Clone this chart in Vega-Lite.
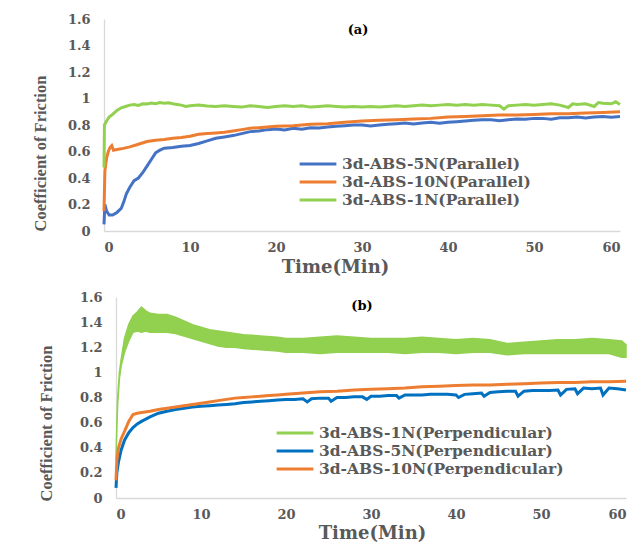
{
  "$schema": "https://vega.github.io/schema/vega-lite/v6.json",
  "padding": {"left": 31, "top": 13, "right": 5, "bottom": 0},
  "spacing": 15,
  "resolve": {"scale": {"color": "independent"}, "legend": {"color": "independent"}},
  "config": {
    "view": {"stroke": null},
    "axis": {
      "labelFont": "DejaVu Serif", "labelFontWeight": "bold", "labelFontSize": 13, "labelColor": "#595959",
      "titleFont": "DejaVu Serif", "titleFontWeight": "bold", "titleFontSize": 18, "titleColor": "#595959",
      "domainColor": "#d9d9d9", "domainWidth": 1.3, "ticks": false, "grid": false
    },
    "axisY": {"titleFont": "Liberation Serif", "titleFontSize": 16.5, "labelPadding": 14},
    "axisX": {"labelPadding": 10},
    "legend": {
      "orient": "none", "symbolType": "M-3,0H3", "symbolSize": 150, "symbolStrokeWidth": 3,
      "labelFont": "DejaVu Serif", "labelFontWeight": "bold", "labelFontSize": 15.5, "labelColor": "#595959",
      "labelLimit": 0, "rowPadding": 1, "padding": 0, "labelOffset": 16, "title": null
    },
    "title": {"font": "DejaVu Serif", "fontSize": 13, "fontWeight": "bold", "color": "#000000", "frame": "group", "anchor": "middle", "baseline": "middle"}
  },
  "datasets": {
    "a": [
      {"t":0,"v":0.05,"s":"3d-ABS-5N(Parallel)"},{"t":0.1,"v":0.2,"s":"3d-ABS-5N(Parallel)"},{"t":0.3,"v":0.15,"s":"3d-ABS-5N(Parallel)"},{"t":0.6,"v":0.12,"s":"3d-ABS-5N(Parallel)"},{"t":1,"v":0.12,"s":"3d-ABS-5N(Parallel)"},{"t":1.5,"v":0.14,"s":"3d-ABS-5N(Parallel)"},{"t":2,"v":0.17,"s":"3d-ABS-5N(Parallel)"},{"t":2.3,"v":0.22,"s":"3d-ABS-5N(Parallel)"},{"t":2.6,"v":0.28,"s":"3d-ABS-5N(Parallel)"},{"t":3,"v":0.33,"s":"3d-ABS-5N(Parallel)"},{"t":3.5,"v":0.38,"s":"3d-ABS-5N(Parallel)"},{"t":4,"v":0.4,"s":"3d-ABS-5N(Parallel)"},{"t":4.5,"v":0.44,"s":"3d-ABS-5N(Parallel)"},{"t":5,"v":0.49,"s":"3d-ABS-5N(Parallel)"},{"t":5.5,"v":0.54,"s":"3d-ABS-5N(Parallel)"},{"t":6,"v":0.59,"s":"3d-ABS-5N(Parallel)"},{"t":6.5,"v":0.61,"s":"3d-ABS-5N(Parallel)"},{"t":7,"v":0.625,"s":"3d-ABS-5N(Parallel)"},{"t":8,"v":0.63,"s":"3d-ABS-5N(Parallel)"},{"t":9,"v":0.64,"s":"3d-ABS-5N(Parallel)"},{"t":10,"v":0.645,"s":"3d-ABS-5N(Parallel)"},{"t":11,"v":0.66,"s":"3d-ABS-5N(Parallel)"},{"t":12,"v":0.68,"s":"3d-ABS-5N(Parallel)"},{"t":13,"v":0.7,"s":"3d-ABS-5N(Parallel)"},{"t":14,"v":0.71,"s":"3d-ABS-5N(Parallel)"},{"t":15,"v":0.72,"s":"3d-ABS-5N(Parallel)"},{"t":16,"v":0.735,"s":"3d-ABS-5N(Parallel)"},{"t":17,"v":0.75,"s":"3d-ABS-5N(Parallel)"},{"t":18,"v":0.755,"s":"3d-ABS-5N(Parallel)"},{"t":19,"v":0.765,"s":"3d-ABS-5N(Parallel)"},{"t":20,"v":0.77,"s":"3d-ABS-5N(Parallel)"},{"t":21,"v":0.762,"s":"3d-ABS-5N(Parallel)"},{"t":22,"v":0.775,"s":"3d-ABS-5N(Parallel)"},{"t":23,"v":0.768,"s":"3d-ABS-5N(Parallel)"},{"t":24,"v":0.78,"s":"3d-ABS-5N(Parallel)"},{"t":25,"v":0.778,"s":"3d-ABS-5N(Parallel)"},{"t":26,"v":0.785,"s":"3d-ABS-5N(Parallel)"},{"t":27,"v":0.79,"s":"3d-ABS-5N(Parallel)"},{"t":28,"v":0.795,"s":"3d-ABS-5N(Parallel)"},{"t":29,"v":0.8,"s":"3d-ABS-5N(Parallel)"},{"t":30,"v":0.8,"s":"3d-ABS-5N(Parallel)"},{"t":31,"v":0.793,"s":"3d-ABS-5N(Parallel)"},{"t":32,"v":0.8,"s":"3d-ABS-5N(Parallel)"},{"t":33,"v":0.805,"s":"3d-ABS-5N(Parallel)"},{"t":34,"v":0.81,"s":"3d-ABS-5N(Parallel)"},{"t":35,"v":0.815,"s":"3d-ABS-5N(Parallel)"},{"t":36,"v":0.808,"s":"3d-ABS-5N(Parallel)"},{"t":37,"v":0.815,"s":"3d-ABS-5N(Parallel)"},{"t":38,"v":0.82,"s":"3d-ABS-5N(Parallel)"},{"t":39,"v":0.813,"s":"3d-ABS-5N(Parallel)"},{"t":40,"v":0.82,"s":"3d-ABS-5N(Parallel)"},{"t":41,"v":0.825,"s":"3d-ABS-5N(Parallel)"},{"t":42,"v":0.83,"s":"3d-ABS-5N(Parallel)"},{"t":43,"v":0.835,"s":"3d-ABS-5N(Parallel)"},{"t":44,"v":0.84,"s":"3d-ABS-5N(Parallel)"},{"t":45,"v":0.84,"s":"3d-ABS-5N(Parallel)"},{"t":46,"v":0.833,"s":"3d-ABS-5N(Parallel)"},{"t":47,"v":0.84,"s":"3d-ABS-5N(Parallel)"},{"t":48,"v":0.845,"s":"3d-ABS-5N(Parallel)"},{"t":49,"v":0.843,"s":"3d-ABS-5N(Parallel)"},{"t":50,"v":0.85,"s":"3d-ABS-5N(Parallel)"},{"t":51,"v":0.85,"s":"3d-ABS-5N(Parallel)"},{"t":52,"v":0.843,"s":"3d-ABS-5N(Parallel)"},{"t":53,"v":0.855,"s":"3d-ABS-5N(Parallel)"},{"t":54,"v":0.855,"s":"3d-ABS-5N(Parallel)"},{"t":55,"v":0.86,"s":"3d-ABS-5N(Parallel)"},{"t":56,"v":0.852,"s":"3d-ABS-5N(Parallel)"},{"t":57,"v":0.86,"s":"3d-ABS-5N(Parallel)"},{"t":58,"v":0.865,"s":"3d-ABS-5N(Parallel)"},{"t":59,"v":0.858,"s":"3d-ABS-5N(Parallel)"},{"t":60,"v":0.865,"s":"3d-ABS-5N(Parallel)"},
      {"t":0,"v":0.15,"s":"3d-ABS-10N(Parallel)"},{"t":0.1,"v":0.45,"s":"3d-ABS-10N(Parallel)"},{"t":0.3,"v":0.55,"s":"3d-ABS-10N(Parallel)"},{"t":0.5,"v":0.6,"s":"3d-ABS-10N(Parallel)"},{"t":0.7,"v":0.63,"s":"3d-ABS-10N(Parallel)"},{"t":0.9,"v":0.645,"s":"3d-ABS-10N(Parallel)"},{"t":1.1,"v":0.61,"s":"3d-ABS-10N(Parallel)"},{"t":1.5,"v":0.615,"s":"3d-ABS-10N(Parallel)"},{"t":2,"v":0.62,"s":"3d-ABS-10N(Parallel)"},{"t":3,"v":0.635,"s":"3d-ABS-10N(Parallel)"},{"t":4,"v":0.655,"s":"3d-ABS-10N(Parallel)"},{"t":5,"v":0.675,"s":"3d-ABS-10N(Parallel)"},{"t":6,"v":0.685,"s":"3d-ABS-10N(Parallel)"},{"t":7,"v":0.69,"s":"3d-ABS-10N(Parallel)"},{"t":8,"v":0.7,"s":"3d-ABS-10N(Parallel)"},{"t":9,"v":0.705,"s":"3d-ABS-10N(Parallel)"},{"t":10,"v":0.715,"s":"3d-ABS-10N(Parallel)"},{"t":11,"v":0.73,"s":"3d-ABS-10N(Parallel)"},{"t":12,"v":0.735,"s":"3d-ABS-10N(Parallel)"},{"t":13,"v":0.74,"s":"3d-ABS-10N(Parallel)"},{"t":14,"v":0.745,"s":"3d-ABS-10N(Parallel)"},{"t":15,"v":0.755,"s":"3d-ABS-10N(Parallel)"},{"t":16,"v":0.765,"s":"3d-ABS-10N(Parallel)"},{"t":17,"v":0.775,"s":"3d-ABS-10N(Parallel)"},{"t":18,"v":0.78,"s":"3d-ABS-10N(Parallel)"},{"t":19,"v":0.785,"s":"3d-ABS-10N(Parallel)"},{"t":20,"v":0.79,"s":"3d-ABS-10N(Parallel)"},{"t":22,"v":0.795,"s":"3d-ABS-10N(Parallel)"},{"t":24,"v":0.805,"s":"3d-ABS-10N(Parallel)"},{"t":26,"v":0.81,"s":"3d-ABS-10N(Parallel)"},{"t":28,"v":0.82,"s":"3d-ABS-10N(Parallel)"},{"t":30,"v":0.83,"s":"3d-ABS-10N(Parallel)"},{"t":32,"v":0.835,"s":"3d-ABS-10N(Parallel)"},{"t":34,"v":0.84,"s":"3d-ABS-10N(Parallel)"},{"t":36,"v":0.845,"s":"3d-ABS-10N(Parallel)"},{"t":38,"v":0.85,"s":"3d-ABS-10N(Parallel)"},{"t":40,"v":0.86,"s":"3d-ABS-10N(Parallel)"},{"t":42,"v":0.865,"s":"3d-ABS-10N(Parallel)"},{"t":44,"v":0.87,"s":"3d-ABS-10N(Parallel)"},{"t":46,"v":0.875,"s":"3d-ABS-10N(Parallel)"},{"t":48,"v":0.875,"s":"3d-ABS-10N(Parallel)"},{"t":50,"v":0.88,"s":"3d-ABS-10N(Parallel)"},{"t":52,"v":0.885,"s":"3d-ABS-10N(Parallel)"},{"t":54,"v":0.885,"s":"3d-ABS-10N(Parallel)"},{"t":56,"v":0.89,"s":"3d-ABS-10N(Parallel)"},{"t":58,"v":0.895,"s":"3d-ABS-10N(Parallel)"},{"t":60,"v":0.9,"s":"3d-ABS-10N(Parallel)"},
      {"t":0,"v":0.48,"s":"3d-ABS-1N(Parallel)"},{"t":0.05,"v":0.8,"s":"3d-ABS-1N(Parallel)"},{"t":0.3,"v":0.83,"s":"3d-ABS-1N(Parallel)"},{"t":0.6,"v":0.86,"s":"3d-ABS-1N(Parallel)"},{"t":1,"v":0.88,"s":"3d-ABS-1N(Parallel)"},{"t":1.5,"v":0.91,"s":"3d-ABS-1N(Parallel)"},{"t":2,"v":0.93,"s":"3d-ABS-1N(Parallel)"},{"t":2.5,"v":0.94,"s":"3d-ABS-1N(Parallel)"},{"t":3,"v":0.95,"s":"3d-ABS-1N(Parallel)"},{"t":3.5,"v":0.955,"s":"3d-ABS-1N(Parallel)"},{"t":4,"v":0.948,"s":"3d-ABS-1N(Parallel)"},{"t":4.5,"v":0.96,"s":"3d-ABS-1N(Parallel)"},{"t":5,"v":0.958,"s":"3d-ABS-1N(Parallel)"},{"t":5.5,"v":0.965,"s":"3d-ABS-1N(Parallel)"},{"t":6,"v":0.96,"s":"3d-ABS-1N(Parallel)"},{"t":6.5,"v":0.97,"s":"3d-ABS-1N(Parallel)"},{"t":7,"v":0.965,"s":"3d-ABS-1N(Parallel)"},{"t":7.5,"v":0.967,"s":"3d-ABS-1N(Parallel)"},{"t":8,"v":0.96,"s":"3d-ABS-1N(Parallel)"},{"t":8.5,"v":0.955,"s":"3d-ABS-1N(Parallel)"},{"t":9,"v":0.95,"s":"3d-ABS-1N(Parallel)"},{"t":9.5,"v":0.94,"s":"3d-ABS-1N(Parallel)"},{"t":10,"v":0.945,"s":"3d-ABS-1N(Parallel)"},{"t":11,"v":0.95,"s":"3d-ABS-1N(Parallel)"},{"t":12,"v":0.944,"s":"3d-ABS-1N(Parallel)"},{"t":13,"v":0.94,"s":"3d-ABS-1N(Parallel)"},{"t":14,"v":0.945,"s":"3d-ABS-1N(Parallel)"},{"t":15,"v":0.94,"s":"3d-ABS-1N(Parallel)"},{"t":16,"v":0.935,"s":"3d-ABS-1N(Parallel)"},{"t":17,"v":0.945,"s":"3d-ABS-1N(Parallel)"},{"t":18,"v":0.94,"s":"3d-ABS-1N(Parallel)"},{"t":19,"v":0.933,"s":"3d-ABS-1N(Parallel)"},{"t":20,"v":0.94,"s":"3d-ABS-1N(Parallel)"},{"t":21,"v":0.945,"s":"3d-ABS-1N(Parallel)"},{"t":22,"v":0.94,"s":"3d-ABS-1N(Parallel)"},{"t":23,"v":0.945,"s":"3d-ABS-1N(Parallel)"},{"t":24,"v":0.935,"s":"3d-ABS-1N(Parallel)"},{"t":25,"v":0.94,"s":"3d-ABS-1N(Parallel)"},{"t":26,"v":0.945,"s":"3d-ABS-1N(Parallel)"},{"t":27,"v":0.94,"s":"3d-ABS-1N(Parallel)"},{"t":28,"v":0.935,"s":"3d-ABS-1N(Parallel)"},{"t":29,"v":0.94,"s":"3d-ABS-1N(Parallel)"},{"t":30,"v":0.935,"s":"3d-ABS-1N(Parallel)"},{"t":31,"v":0.94,"s":"3d-ABS-1N(Parallel)"},{"t":32,"v":0.935,"s":"3d-ABS-1N(Parallel)"},{"t":33,"v":0.94,"s":"3d-ABS-1N(Parallel)"},{"t":34,"v":0.945,"s":"3d-ABS-1N(Parallel)"},{"t":35,"v":0.94,"s":"3d-ABS-1N(Parallel)"},{"t":36,"v":0.945,"s":"3d-ABS-1N(Parallel)"},{"t":37,"v":0.95,"s":"3d-ABS-1N(Parallel)"},{"t":38,"v":0.945,"s":"3d-ABS-1N(Parallel)"},{"t":39,"v":0.95,"s":"3d-ABS-1N(Parallel)"},{"t":40,"v":0.955,"s":"3d-ABS-1N(Parallel)"},{"t":41,"v":0.95,"s":"3d-ABS-1N(Parallel)"},{"t":42,"v":0.955,"s":"3d-ABS-1N(Parallel)"},{"t":43,"v":0.95,"s":"3d-ABS-1N(Parallel)"},{"t":44,"v":0.955,"s":"3d-ABS-1N(Parallel)"},{"t":45,"v":0.95,"s":"3d-ABS-1N(Parallel)"},{"t":46,"v":0.945,"s":"3d-ABS-1N(Parallel)"},{"t":46.5,"v":0.92,"s":"3d-ABS-1N(Parallel)"},{"t":47,"v":0.945,"s":"3d-ABS-1N(Parallel)"},{"t":48,"v":0.95,"s":"3d-ABS-1N(Parallel)"},{"t":49,"v":0.955,"s":"3d-ABS-1N(Parallel)"},{"t":50,"v":0.95,"s":"3d-ABS-1N(Parallel)"},{"t":51,"v":0.955,"s":"3d-ABS-1N(Parallel)"},{"t":52,"v":0.96,"s":"3d-ABS-1N(Parallel)"},{"t":53,"v":0.95,"s":"3d-ABS-1N(Parallel)"},{"t":54,"v":0.932,"s":"3d-ABS-1N(Parallel)"},{"t":54.5,"v":0.96,"s":"3d-ABS-1N(Parallel)"},{"t":55,"v":0.955,"s":"3d-ABS-1N(Parallel)"},{"t":56,"v":0.96,"s":"3d-ABS-1N(Parallel)"},{"t":57,"v":0.94,"s":"3d-ABS-1N(Parallel)"},{"t":57.5,"v":0.97,"s":"3d-ABS-1N(Parallel)"},{"t":58,"v":0.965,"s":"3d-ABS-1N(Parallel)"},{"t":59,"v":0.96,"s":"3d-ABS-1N(Parallel)"},{"t":59.5,"v":0.975,"s":"3d-ABS-1N(Parallel)"},{"t":60,"v":0.955,"s":"3d-ABS-1N(Parallel)"}
    ],
    "bLines": [
      {"t":0,"v":0.08,"s":"3d-ABS-5N(Perpendicular)"},{"t":0.1,"v":0.2,"s":"3d-ABS-5N(Perpendicular)"},{"t":0.3,"v":0.29,"s":"3d-ABS-5N(Perpendicular)"},{"t":0.6,"v":0.38,"s":"3d-ABS-5N(Perpendicular)"},{"t":1,"v":0.46,"s":"3d-ABS-5N(Perpendicular)"},{"t":1.5,"v":0.52,"s":"3d-ABS-5N(Perpendicular)"},{"t":2,"v":0.56,"s":"3d-ABS-5N(Perpendicular)"},{"t":2.5,"v":0.59,"s":"3d-ABS-5N(Perpendicular)"},{"t":3,"v":0.61,"s":"3d-ABS-5N(Perpendicular)"},{"t":4,"v":0.645,"s":"3d-ABS-5N(Perpendicular)"},{"t":5,"v":0.675,"s":"3d-ABS-5N(Perpendicular)"},{"t":6,"v":0.69,"s":"3d-ABS-5N(Perpendicular)"},{"t":7,"v":0.705,"s":"3d-ABS-5N(Perpendicular)"},{"t":8,"v":0.715,"s":"3d-ABS-5N(Perpendicular)"},{"t":9,"v":0.725,"s":"3d-ABS-5N(Perpendicular)"},{"t":10,"v":0.73,"s":"3d-ABS-5N(Perpendicular)"},{"t":11,"v":0.735,"s":"3d-ABS-5N(Perpendicular)"},{"t":12,"v":0.74,"s":"3d-ABS-5N(Perpendicular)"},{"t":13,"v":0.745,"s":"3d-ABS-5N(Perpendicular)"},{"t":14,"v":0.75,"s":"3d-ABS-5N(Perpendicular)"},{"t":15,"v":0.76,"s":"3d-ABS-5N(Perpendicular)"},{"t":16,"v":0.765,"s":"3d-ABS-5N(Perpendicular)"},{"t":17,"v":0.77,"s":"3d-ABS-5N(Perpendicular)"},{"t":18,"v":0.775,"s":"3d-ABS-5N(Perpendicular)"},{"t":19,"v":0.78,"s":"3d-ABS-5N(Perpendicular)"},{"t":20,"v":0.785,"s":"3d-ABS-5N(Perpendicular)"},{"t":21,"v":0.785,"s":"3d-ABS-5N(Perpendicular)"},{"t":22,"v":0.79,"s":"3d-ABS-5N(Perpendicular)"},{"t":22.5,"v":0.765,"s":"3d-ABS-5N(Perpendicular)"},{"t":23,"v":0.79,"s":"3d-ABS-5N(Perpendicular)"},{"t":24,"v":0.795,"s":"3d-ABS-5N(Perpendicular)"},{"t":25,"v":0.795,"s":"3d-ABS-5N(Perpendicular)"},{"t":25.3,"v":0.77,"s":"3d-ABS-5N(Perpendicular)"},{"t":26,"v":0.8,"s":"3d-ABS-5N(Perpendicular)"},{"t":27,"v":0.8,"s":"3d-ABS-5N(Perpendicular)"},{"t":28,"v":0.805,"s":"3d-ABS-5N(Perpendicular)"},{"t":29,"v":0.805,"s":"3d-ABS-5N(Perpendicular)"},{"t":29.5,"v":0.785,"s":"3d-ABS-5N(Perpendicular)"},{"t":30,"v":0.81,"s":"3d-ABS-5N(Perpendicular)"},{"t":31,"v":0.81,"s":"3d-ABS-5N(Perpendicular)"},{"t":32,"v":0.815,"s":"3d-ABS-5N(Perpendicular)"},{"t":33,"v":0.815,"s":"3d-ABS-5N(Perpendicular)"},{"t":33.3,"v":0.795,"s":"3d-ABS-5N(Perpendicular)"},{"t":34,"v":0.82,"s":"3d-ABS-5N(Perpendicular)"},{"t":35,"v":0.82,"s":"3d-ABS-5N(Perpendicular)"},{"t":36,"v":0.82,"s":"3d-ABS-5N(Perpendicular)"},{"t":37,"v":0.825,"s":"3d-ABS-5N(Perpendicular)"},{"t":38,"v":0.825,"s":"3d-ABS-5N(Perpendicular)"},{"t":39,"v":0.825,"s":"3d-ABS-5N(Perpendicular)"},{"t":40,"v":0.82,"s":"3d-ABS-5N(Perpendicular)"},{"t":40.3,"v":0.8,"s":"3d-ABS-5N(Perpendicular)"},{"t":41,"v":0.825,"s":"3d-ABS-5N(Perpendicular)"},{"t":42,"v":0.83,"s":"3d-ABS-5N(Perpendicular)"},{"t":43,"v":0.835,"s":"3d-ABS-5N(Perpendicular)"},{"t":43.3,"v":0.81,"s":"3d-ABS-5N(Perpendicular)"},{"t":44,"v":0.84,"s":"3d-ABS-5N(Perpendicular)"},{"t":45,"v":0.845,"s":"3d-ABS-5N(Perpendicular)"},{"t":46,"v":0.85,"s":"3d-ABS-5N(Perpendicular)"},{"t":47,"v":0.85,"s":"3d-ABS-5N(Perpendicular)"},{"t":47.3,"v":0.81,"s":"3d-ABS-5N(Perpendicular)"},{"t":48,"v":0.85,"s":"3d-ABS-5N(Perpendicular)"},{"t":49,"v":0.855,"s":"3d-ABS-5N(Perpendicular)"},{"t":50,"v":0.855,"s":"3d-ABS-5N(Perpendicular)"},{"t":51,"v":0.855,"s":"3d-ABS-5N(Perpendicular)"},{"t":52,"v":0.86,"s":"3d-ABS-5N(Perpendicular)"},{"t":52.3,"v":0.82,"s":"3d-ABS-5N(Perpendicular)"},{"t":53,"v":0.865,"s":"3d-ABS-5N(Perpendicular)"},{"t":54,"v":0.87,"s":"3d-ABS-5N(Perpendicular)"},{"t":54.3,"v":0.83,"s":"3d-ABS-5N(Perpendicular)"},{"t":55,"v":0.875,"s":"3d-ABS-5N(Perpendicular)"},{"t":56,"v":0.87,"s":"3d-ABS-5N(Perpendicular)"},{"t":57,"v":0.875,"s":"3d-ABS-5N(Perpendicular)"},{"t":57.3,"v":0.82,"s":"3d-ABS-5N(Perpendicular)"},{"t":58,"v":0.875,"s":"3d-ABS-5N(Perpendicular)"},{"t":59,"v":0.87,"s":"3d-ABS-5N(Perpendicular)"},{"t":60,"v":0.86,"s":"3d-ABS-5N(Perpendicular)"},
      {"t":0,"v":0.14,"s":"3d-ABS-10N(Perpendicular)"},{"t":0.1,"v":0.3,"s":"3d-ABS-10N(Perpendicular)"},{"t":0.3,"v":0.4,"s":"3d-ABS-10N(Perpendicular)"},{"t":0.6,"v":0.47,"s":"3d-ABS-10N(Perpendicular)"},{"t":1,"v":0.53,"s":"3d-ABS-10N(Perpendicular)"},{"t":1.5,"v":0.61,"s":"3d-ABS-10N(Perpendicular)"},{"t":2,"v":0.665,"s":"3d-ABS-10N(Perpendicular)"},{"t":2.5,"v":0.675,"s":"3d-ABS-10N(Perpendicular)"},{"t":3,"v":0.68,"s":"3d-ABS-10N(Perpendicular)"},{"t":4,"v":0.69,"s":"3d-ABS-10N(Perpendicular)"},{"t":5,"v":0.705,"s":"3d-ABS-10N(Perpendicular)"},{"t":6,"v":0.715,"s":"3d-ABS-10N(Perpendicular)"},{"t":7,"v":0.725,"s":"3d-ABS-10N(Perpendicular)"},{"t":8,"v":0.735,"s":"3d-ABS-10N(Perpendicular)"},{"t":9,"v":0.745,"s":"3d-ABS-10N(Perpendicular)"},{"t":10,"v":0.755,"s":"3d-ABS-10N(Perpendicular)"},{"t":11,"v":0.765,"s":"3d-ABS-10N(Perpendicular)"},{"t":12,"v":0.775,"s":"3d-ABS-10N(Perpendicular)"},{"t":13,"v":0.785,"s":"3d-ABS-10N(Perpendicular)"},{"t":14,"v":0.795,"s":"3d-ABS-10N(Perpendicular)"},{"t":15,"v":0.8,"s":"3d-ABS-10N(Perpendicular)"},{"t":16,"v":0.805,"s":"3d-ABS-10N(Perpendicular)"},{"t":17,"v":0.81,"s":"3d-ABS-10N(Perpendicular)"},{"t":18,"v":0.815,"s":"3d-ABS-10N(Perpendicular)"},{"t":19,"v":0.82,"s":"3d-ABS-10N(Perpendicular)"},{"t":20,"v":0.825,"s":"3d-ABS-10N(Perpendicular)"},{"t":22,"v":0.835,"s":"3d-ABS-10N(Perpendicular)"},{"t":24,"v":0.845,"s":"3d-ABS-10N(Perpendicular)"},{"t":26,"v":0.85,"s":"3d-ABS-10N(Perpendicular)"},{"t":28,"v":0.86,"s":"3d-ABS-10N(Perpendicular)"},{"t":30,"v":0.865,"s":"3d-ABS-10N(Perpendicular)"},{"t":32,"v":0.87,"s":"3d-ABS-10N(Perpendicular)"},{"t":34,"v":0.875,"s":"3d-ABS-10N(Perpendicular)"},{"t":36,"v":0.885,"s":"3d-ABS-10N(Perpendicular)"},{"t":38,"v":0.89,"s":"3d-ABS-10N(Perpendicular)"},{"t":40,"v":0.895,"s":"3d-ABS-10N(Perpendicular)"},{"t":42,"v":0.9,"s":"3d-ABS-10N(Perpendicular)"},{"t":44,"v":0.9,"s":"3d-ABS-10N(Perpendicular)"},{"t":46,"v":0.905,"s":"3d-ABS-10N(Perpendicular)"},{"t":48,"v":0.91,"s":"3d-ABS-10N(Perpendicular)"},{"t":50,"v":0.915,"s":"3d-ABS-10N(Perpendicular)"},{"t":52,"v":0.92,"s":"3d-ABS-10N(Perpendicular)"},{"t":54,"v":0.92,"s":"3d-ABS-10N(Perpendicular)"},{"t":56,"v":0.925,"s":"3d-ABS-10N(Perpendicular)"},{"t":58,"v":0.925,"s":"3d-ABS-10N(Perpendicular)"},{"t":60,"v":0.93,"s":"3d-ABS-10N(Perpendicular)"}
    ],
    "bBand": [
      {"t":0,"lo":0.3,"hi":0.32},{"t":0.1,"lo":0.55,"hi":0.6},{"t":0.2,"lo":0.75,"hi":0.8},{"t":0.4,"lo":0.95,"hi":1.0},{"t":0.6,"lo":1.05,"hi":1.1},{"t":1,"lo":1.16,"hi":1.27},{"t":1.5,"lo":1.25,"hi":1.38},{"t":2,"lo":1.32,"hi":1.45},{"t":2.5,"lo":1.33,"hi":1.48},{"t":3,"lo":1.32,"hi":1.52},{"t":3.5,"lo":1.33,"hi":1.49},{"t":4,"lo":1.32,"hi":1.47},{"t":5,"lo":1.32,"hi":1.46},{"t":6,"lo":1.32,"hi":1.46},{"t":7,"lo":1.31,"hi":1.44},{"t":8,"lo":1.29,"hi":1.41},{"t":9,"lo":1.27,"hi":1.38},{"t":10,"lo":1.25,"hi":1.36},{"t":11,"lo":1.23,"hi":1.34},{"t":12,"lo":1.21,"hi":1.33},{"t":13,"lo":1.2,"hi":1.32},{"t":14,"lo":1.2,"hi":1.31},{"t":15,"lo":1.19,"hi":1.3},{"t":17,"lo":1.18,"hi":1.29},{"t":19,"lo":1.17,"hi":1.28},{"t":20,"lo":1.16,"hi":1.27},{"t":22,"lo":1.16,"hi":1.27},{"t":24,"lo":1.15,"hi":1.28},{"t":26,"lo":1.16,"hi":1.29},{"t":28,"lo":1.16,"hi":1.28},{"t":30,"lo":1.16,"hi":1.27},{"t":32,"lo":1.16,"hi":1.27},{"t":34,"lo":1.15,"hi":1.27},{"t":36,"lo":1.16,"hi":1.28},{"t":38,"lo":1.16,"hi":1.27},{"t":40,"lo":1.15,"hi":1.26},{"t":42,"lo":1.16,"hi":1.27},{"t":44,"lo":1.16,"hi":1.26},{"t":46,"lo":1.14,"hi":1.23},{"t":48,"lo":1.15,"hi":1.24},{"t":50,"lo":1.15,"hi":1.25},{"t":52,"lo":1.15,"hi":1.26},{"t":54,"lo":1.15,"hi":1.26},{"t":56,"lo":1.15,"hi":1.27},{"t":58,"lo":1.15,"hi":1.26},{"t":59.5,"lo":1.12,"hi":1.25},{"t":60,"lo":1.12,"hi":1.22}
    ]
  },
  "vconcat": [
    {
      "width": 516, "height": 212,
      "title": {"text": "(a)", "offset": -24, "dx": -4},
      "data": {"name": "a"},
      "mark": {"type": "line", "strokeWidth": 3, "interpolate": "linear"},
      "encoding": {
        "x": {"field": "t", "type": "quantitative", "scale": {"domain": [0, 60], "nice": false},
              "axis": {"values": [0,10,20,30,40,50,60], "title": "Time(Min)", "titleX": 231, "titleY": 36, "titleBaseline": "middle", "titleAlign": "center"}},
        "y": {"field": "v", "type": "quantitative", "scale": {"domain": [0, 1.6], "nice": false},
              "axis": {"values": [0,0.2,0.4,0.6,0.8,1,1.2,1.4,1.6], "format": "~g", "title": "Coefficient of Friction", "titleX": -64, "titleY": 134, "titleBaseline": "middle", "titleAlign": "center", "titleAngle": -90}},
        "color": {"field": "s", "type": "nominal",
                  "scale": {"domain": ["3d-ABS-5N(Parallel)", "3d-ABS-10N(Parallel)", "3d-ABS-1N(Parallel)"], "range": ["#4472C4", "#ED7D31", "#92D050"]},
                  "legend": {"legendX": 206, "legendY": 137}}
      }
    },
    {
      "width": 522, "height": 201,
      "title": {"text": "(b)", "offset": -22, "dx": -3},
      "layer": [
        {
          "data": {"name": "bBand"},
          "mark": {"type": "area", "color": "#92D050", "stroke": "#92D050", "strokeWidth": 1.5},
          "encoding": {
            "x": {"field": "t", "type": "quantitative"},
            "y": {"field": "lo", "type": "quantitative"},
            "y2": {"field": "hi"}
          }
        },
        {
          "data": {"name": "bLines"},
          "mark": {"type": "line", "strokeWidth": 3},
          "encoding": {
            "x": {"field": "t", "type": "quantitative"},
            "y": {"field": "v", "type": "quantitative"},
            "color": {"field": "s", "type": "nominal",
                      "scale": {"domain": ["3d-ABS-1N(Perpendicular)", "3d-ABS-5N(Perpendicular)", "3d-ABS-10N(Perpendicular)"], "range": ["#92D050", "#0070C0", "#ED7D31"]},
                      "legend": {"legendX": 183, "legendY": 128}}
          }
        }
      ],
      "resolve": {"scale": {"x": "shared", "y": "shared"}},
      "encoding": {
        "x": {"field": "t", "type": "quantitative", "scale": {"domain": [0, 60], "nice": false, "range": [12, 522]},
              "axis": {"values": [0,10,20,30,40,50,60], "title": "Time(Min)", "titleX": 268, "titleY": 35, "titleBaseline": "middle", "titleAlign": "center"}},
        "y": {"field": "v", "type": "quantitative", "scale": {"domain": [0, 1.6], "nice": false},
              "axis": {"offset": -12, "values": [0,0.2,0.4,0.6,0.8,1,1.2,1.4,1.6], "format": "~g", "title": "Coefficient of Friction", "titleX": -70, "titleY": 126, "titleBaseline": "middle", "titleAlign": "center", "titleAngle": -90}}
      }
    }
  ]
}
